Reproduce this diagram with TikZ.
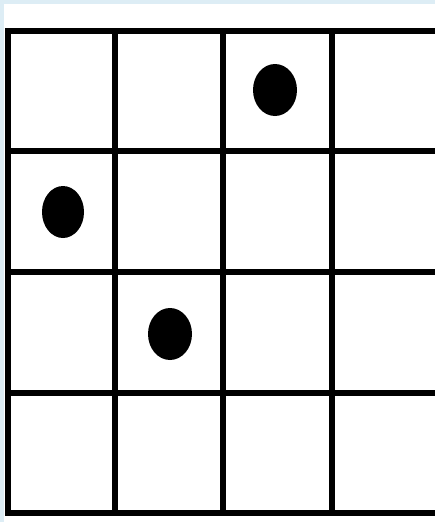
\documentclass[tikz,border=0pt]{standalone}
\begin{document}
\begin{tikzpicture}[x=1pt,y=-1pt,
  gridline/.style={line width=6pt,black},
  dot/.style={fill=black}]
\useasboundingbox (0,0) rectangle (435,522);
\definecolor{frameblue}{HTML}{DDEDF5}
\fill[frameblue] (0,0) rectangle (435,522);
\fill[white] (4,4) rectangle (435,522);
\foreach \y in {31,151,272,393,513}
  \draw[gridline] (5,\y) -- (435,\y);
\foreach \x in {8,115,223,332}
  \draw[gridline] (\x,28) -- (\x,516);
\fill[dot] (275,90) ellipse [x radius=22, y radius=26];
\fill[dot] (63,212) ellipse [x radius=21, y radius=26];
\fill[dot] (170,334) ellipse [x radius=22, y radius=26];
\end{tikzpicture}
\end{document}
